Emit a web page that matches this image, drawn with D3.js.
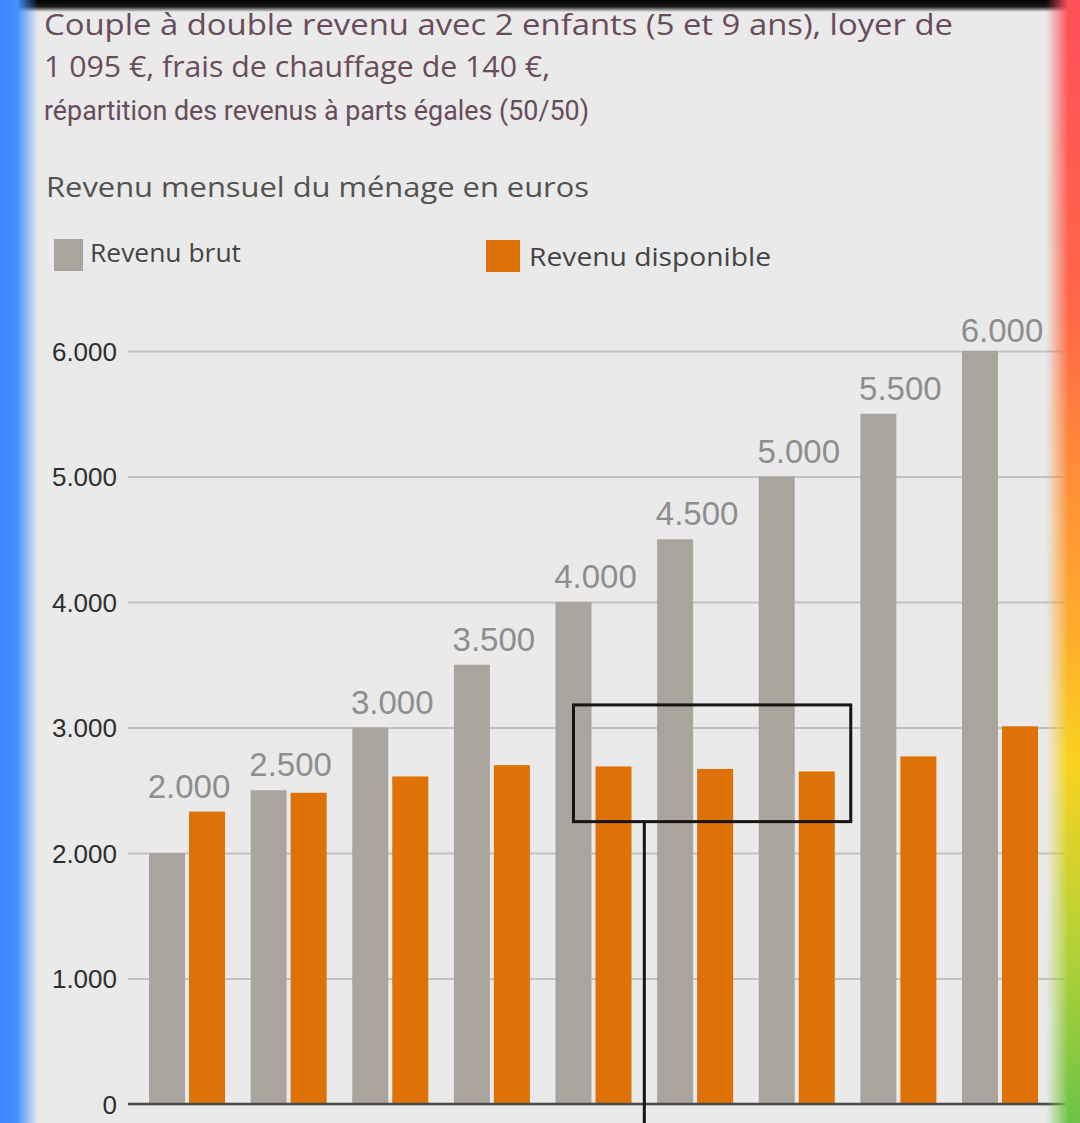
<!DOCTYPE html>
<html>
<head>
<meta charset="utf-8">
<script src="https://cdn.jsdelivr.net/npm/d3@7"></script>
<style>
  html, body { margin: 0; padding: 0; background: #eaeaea; }
  svg { display: block; }
</style>
</head>
<body>
<div id="chart"></div>
<script>
// revenu brut vs revenu disponible, couple 2 enfants
var categories = ["2.000", "2.500", "3.000", "3.500", "4.000", "4.500", "5.000", "5.500", "6.000"];
var revenuBrut = [2000, 2500, 3000, 3500, 4000, 4500, 5000, 5500, 6000];
var revenuDisponible = [2330, 2480, 2610, 2700, 2690, 2670, 2650, 2770, 3010];
var yTicks = [0, 1000, 2000, 3000, 4000, 5000, 6000];
var seriesNames = ["Revenu brut", "Revenu disponible"];
var titleLines = [
    "Couple à double revenu avec 2 enfants (5 et 9 ans), loyer de",
    "1 095 €, frais de chauffage de 140 €,",
    "répartition des revenus à parts égales (50/50)"
];
var subtitle = "Revenu mensuel du ménage en euros";
// highlighted zone (first and last category, value range)
var highlight = { from: "4.000", to: "5.000", low: 2250, high: 3180 };

var width = 1080;
var height = 1123;
var colors = { brut: "#aaa49e", dispo: "#de7206" };

var fmt = d3.formatLocale({ decimal: ",", thousands: ".", grouping: [3], currency: ["", " €"] }).format(",");

var svg = d3.select("#chart").append("svg")
    .attr("width", width)
    .attr("height", height);

var defs = svg.append("defs");

svg.append("rect")
    .attr("width", width)
    .attr("height", height)
    .attr("fill", "#eaeaea");

// scales
var x = d3.scaleBand()
    .domain(categories)
    .range([136.2, 1050.8])
    .paddingInner(0.252)
    .paddingOuter(0.126);

var xSub = d3.scaleBand()
    .domain(["brut", "dispo"])
    .range([0, x.bandwidth()])
    .paddingInner(0.1);

var y = d3.scaleLinear()
    .domain([0, 6000])
    .range([1104, 351]);

var gridLeft = 128, gridRight = 1066;

// grid + y axis
var yAxis = d3.axisLeft(y)
    .tickValues(yTicks)
    .tickFormat(fmt)
    .tickSize(-(gridRight - gridLeft))
    .tickPadding(11);

var gAxis = svg.append("g")
    .attr("class", "y-axis")
    .attr("transform", "translate(" + gridLeft + ",0)")
    .call(yAxis);

gAxis.select(".domain").remove();
gAxis.selectAll(".tick line")
    .attr("stroke", "#c2c2c2")
    .attr("stroke-width", 2);
gAxis.selectAll(".tick text")
    .attr("fill", "#2e2e2e")
    .style("font-family", "'Liberation Sans', Arial, sans-serif")
    .style("font-size", "26px")
    .attr("dy", "0.36em");

// bars
var groups = svg.append("g").selectAll("g.group")
    .data(categories)
    .enter().append("g")
    .attr("class", "group")
    .attr("transform", function(d) { return "translate(" + x(d) + ",0)"; });

groups.append("rect")
    .attr("x", xSub("brut"))
    .attr("width", xSub.bandwidth())
    .attr("y", function(d, i) { return y(revenuBrut[i]); })
    .attr("height", function(d, i) { return y(0) - y(revenuBrut[i]); })
    .attr("fill", colors.brut);

groups.append("rect")
    .attr("x", xSub("dispo"))
    .attr("width", xSub.bandwidth())
    .attr("y", function(d, i) { return y(revenuDisponible[i]); })
    .attr("height", function(d, i) { return y(0) - y(revenuDisponible[i]); })
    .attr("fill", colors.dispo);

groups.append("text")
    .attr("x", x.bandwidth() / 2 + 2)
    .attr("y", function(d, i) {
        var top = Math.max(revenuBrut[i], revenuDisponible[i]);
        return y(top) - (top >= 6000 ? 9 : 14);
    })
    .attr("text-anchor", "middle")
    .attr("fill", "#8e8e8e")
    .style("font-family", "'Liberation Sans', Arial, sans-serif")
    .style("font-size", "33px")
    .text(function(d, i) { return fmt(revenuBrut[i]); });

// baseline
svg.append("line")
    .attr("x1", gridLeft)
    .attr("x2", gridRight)
    .attr("y1", y(0))
    .attr("y2", y(0))
    .attr("stroke", "#4a4a4a")
    .attr("stroke-width", 2.5);

// highlight box + pointer line
var hx0 = x(highlight.from) + xSub.bandwidth() / 2;
var hx1 = x(highlight.to) + x.bandwidth() + 16;
var hMid = x(highlight.from) + x.bandwidth() + (x.step() - x.bandwidth()) / 2;
svg.append("rect")
    .attr("x", hx0)
    .attr("y", y(highlight.high))
    .attr("width", hx1 - hx0)
    .attr("height", y(highlight.low) - y(highlight.high))
    .attr("fill", "none")
    .attr("stroke", "#151515")
    .attr("stroke-width", 3);
svg.append("line")
    .attr("x1", hMid)
    .attr("x2", hMid)
    .attr("y1", y(highlight.low))
    .attr("y2", height)
    .attr("stroke", "#151515")
    .attr("stroke-width", 3);

// titles
var titleFont = "'Open Sans', 'Noto Sans', sans-serif";
var titleSpec = [
    { y: 35, size: 30, len: 909, family: titleFont },
    { y: 77, size: 30, len: 506, family: titleFont },
    { y: 120, size: 27, len: 545, family: "Roboto, sans-serif" }
];
svg.append("g").selectAll("text")
    .data(titleLines)
    .enter().append("text")
    .attr("x", 44)
    .attr("y", function(d, i) { return titleSpec[i].y; })
    .attr("textLength", function(d, i) { return titleSpec[i].len; })
    .attr("lengthAdjust", "spacingAndGlyphs")
    .attr("fill", "#684c5c")
    .style("font-family", function(d, i) { return titleSpec[i].family; })
    .style("font-size", function(d, i) { return titleSpec[i].size + "px"; })
    .text(function(d) { return d; });

svg.append("text")
    .attr("x", 46)
    .attr("y", 197)
    .attr("textLength", 543)
    .attr("lengthAdjust", "spacingAndGlyphs")
    .attr("fill", "#525252")
    .style("font-family", titleFont)
    .style("font-size", "28px")
    .text(subtitle);

// legend
var legendSpec = [
    { sx: 54, sy: 239, sw: 29, sh: 32, tx: 90, ty: 262, len: 151, color: colors.brut },
    { sx: 486, sy: 240, sw: 34, sh: 32, tx: 529, ty: 266, len: 242, color: colors.dispo }
];
var legend = svg.append("g").selectAll("g")
    .data(seriesNames)
    .enter().append("g");
legend.append("rect")
    .attr("x", function(d, i) { return legendSpec[i].sx; })
    .attr("y", function(d, i) { return legendSpec[i].sy; })
    .attr("width", function(d, i) { return legendSpec[i].sw; })
    .attr("height", function(d, i) { return legendSpec[i].sh; })
    .attr("fill", function(d, i) { return legendSpec[i].color; });
legend.append("text")
    .attr("x", function(d, i) { return legendSpec[i].tx; })
    .attr("y", function(d, i) { return legendSpec[i].ty; })
    .attr("textLength", function(d, i) { return legendSpec[i].len; })
    .attr("lengthAdjust", "spacingAndGlyphs")
    .attr("fill", "#444")
    .style("font-family", titleFont)
    .style("font-size", "26px")
    .text(function(d) { return d; });

// screenshot frame: black top bar, blue left edge, rainbow right edge
var topFade = defs.append("linearGradient").attr("id", "topFade")
    .attr("x1", 0).attr("y1", 0).attr("x2", 0).attr("y2", 1);
topFade.append("stop").attr("offset", "0%").attr("stop-color", "#000").attr("stop-opacity", 1);
topFade.append("stop").attr("offset", "55%").attr("stop-color", "#000").attr("stop-opacity", 0.9);
topFade.append("stop").attr("offset", "100%").attr("stop-color", "#000").attr("stop-opacity", 0);
svg.append("rect")
    .attr("x", 0).attr("y", 0)
    .attr("width", width).attr("height", 12)
    .attr("fill", "url(#topFade)");

var blue = defs.append("linearGradient").attr("id", "blueEdge")
    .attr("x1", 0).attr("y1", 0).attr("x2", 1).attr("y2", 0);
blue.append("stop").attr("offset", "0%").attr("stop-color", "#3a88ff").attr("stop-opacity", 1);
blue.append("stop").attr("offset", "45%").attr("stop-color", "#4490ff").attr("stop-opacity", 1);
blue.append("stop").attr("offset", "100%").attr("stop-color", "#4490ff").attr("stop-opacity", 0);
svg.append("rect")
    .attr("x", 0).attr("y", 0)
    .attr("width", 38).attr("height", height)
    .attr("fill", "url(#blueEdge)");

var rainbow = defs.append("linearGradient").attr("id", "rainbow")
    .attr("x1", 0).attr("y1", 0).attr("x2", 0).attr("y2", 1);
[["0%", "#ff4f5a"], ["28%", "#ff6848"], ["45%", "#ff9535"], ["56%", "#ffab2c"], ["68%", "#f8d31e"], ["84%", "#b5d236"], ["100%", "#6dc347"]]
    .forEach(function(s) { rainbow.append("stop").attr("offset", s[0]).attr("stop-color", s[1]); });

var fadeIn = defs.append("linearGradient").attr("id", "fadeIn")
    .attr("x1", 0).attr("y1", 0).attr("x2", 1).attr("y2", 0);
fadeIn.append("stop").attr("offset", "0%").attr("stop-color", "#fff").attr("stop-opacity", 0);
fadeIn.append("stop").attr("offset", "65%").attr("stop-color", "#fff").attr("stop-opacity", 1);
fadeIn.append("stop").attr("offset", "100%").attr("stop-color", "#fff").attr("stop-opacity", 1);
defs.append("mask").attr("id", "rightMask")
    .attr("maskContentUnits", "userSpaceOnUse")
    .append("rect")
    .attr("x", 1046).attr("y", 0)
    .attr("width", 34).attr("height", height)
    .attr("fill", "url(#fadeIn)");
svg.append("rect")
    .attr("x", 1046).attr("y", 0)
    .attr("width", 34).attr("height", height)
    .attr("fill", "url(#rainbow)")
    .attr("mask", "url(#rightMask)");
</script>
</body>
</html>
